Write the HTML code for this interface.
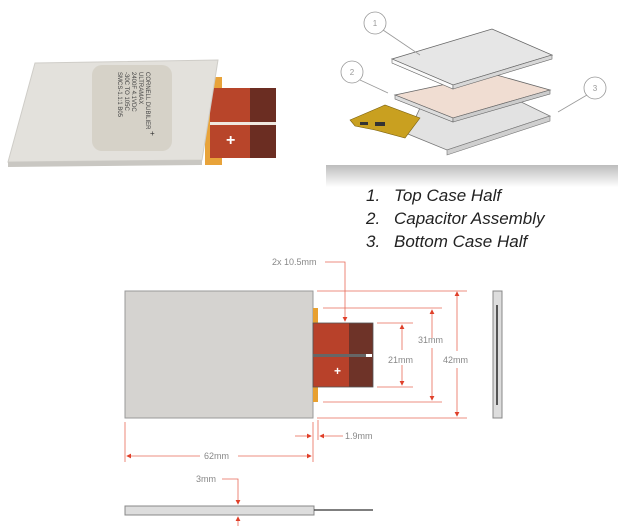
<!DOCTYPE html>
<html><head><meta charset="utf-8"><style>
html,body{margin:0;padding:0;background:#fff;width:625px;height:526px;overflow:hidden}
svg{display:block}
</style></head><body>
<svg width="625" height="526" viewBox="0 0 625 526" xmlns="http://www.w3.org/2000/svg" font-family="Liberation Sans, sans-serif">
<defs>
<linearGradient id="sh" x1="0" y1="0" x2="0" y2="1"><stop offset="0" stop-color="#bdbdbd"/><stop offset="1" stop-color="#fff"/></linearGradient>
<marker id="ar" markerWidth="6" markerHeight="6" refX="5" refY="3" orient="auto"><path d="M0,0 L6,3 L0,6 z" fill="#e0402a"/></marker>
</defs>
<!-- left photo -->
<rect x="205" y="77" width="17" height="88" fill="#e8a33a"/>
<rect x="210" y="88" width="40" height="70" fill="#b8452a"/>
<rect x="250" y="88" width="26" height="70" fill="#6b2d22"/>
<rect x="210" y="122" width="66" height="3" fill="#f0e8e0"/>
<text x="226" y="145" font-size="16" fill="#fff" font-weight="bold">+</text>
<polygon points="35,63 218,60 202,160 8,162" fill="#e3e1dc" stroke="#cfcdc8"/>
<polygon points="8,162 202,160 202,165 8,167" fill="#c9c7c2"/>
<rect x="92" y="65" width="80" height="86" rx="10" fill="#d6d2c8"/>
<g fill="#444" font-size="6"><text transform="translate(146,72) rotate(90)">CORNELL DUBILIER</text><text transform="translate(139,72) rotate(90)">ULTRAMAX</text><text transform="translate(132,72) rotate(90)">2400F 4.1VDC</text><text transform="translate(125,72) rotate(90)">-30C TO 105C</text><text transform="translate(118,72) rotate(90)">SMCS-1.1:1 B05</text></g>
<text x="150" y="136" font-size="8" fill="#333">+</text>
<!-- right panel -->
<rect x="326" y="165" width="292" height="22" fill="url(#sh)"/>
<rect x="326" y="16" width="292" height="149" fill="#fff"/>
<!-- bottom tray -->
<polygon points="420,108 513,98 550,116 447,150 408,134" fill="#e2e2e2" stroke="#777" stroke-width="0.8"/>
<polygon points="447,150 550,116 550,121 447,155" fill="#cfcfcf" stroke="#777" stroke-width="0.6"/>
<!-- flex -->
<polygon points="350,120 385,105 420,118 405,138 375,130 355,126" fill="#c9a020" stroke="#7a6010" stroke-width="0.6"/>
<rect x="375" y="122" width="10" height="4" fill="#333"/><rect x="360" y="122" width="8" height="3" fill="#333"/>
<!-- middle -->
<polygon points="395,95 493,74 550,90 453,118" fill="#f0ddd2" stroke="#666" stroke-width="0.8"/>
<polygon points="395,95 453,118 453,122 395,99" fill="#ddd" stroke="#666" stroke-width="0.6"/>
<polygon points="453,118 550,90 550,94 453,122" fill="#ccc" stroke="#666" stroke-width="0.6"/>
<!-- top -->
<polygon points="392,59 492,29 552,55 453,85" fill="#e6e6e6" stroke="#666" stroke-width="0.8"/>
<polygon points="392,59 453,85 453,89 392,63" fill="#fafafa" stroke="#666" stroke-width="0.6"/>
<polygon points="453,85 552,55 552,59 453,89" fill="#d8d8d8" stroke="#666" stroke-width="0.6"/>
<g fill="#fff" stroke="#999" stroke-width="0.8"><circle cx="375" cy="23" r="11"/><circle cx="352" cy="72" r="11"/><circle cx="595" cy="88" r="11"/></g>
<g stroke="#999" stroke-width="0.8"><line x1="383" y1="30" x2="420" y2="55"/><line x1="360" y1="80" x2="388" y2="93"/><line x1="587" y1="95" x2="558" y2="112"/></g>
<g font-size="8" fill="#999" text-anchor="middle"><text x="375" y="26">1</text><text x="352" y="75">2</text><text x="595" y="91">3</text></g>
<g font-size="17" font-style="italic" fill="#222"><text x="366" y="201">1.</text><text x="394" y="201">Top Case Half</text><text x="366" y="224">2.</text><text x="394" y="224">Capacitor Assembly</text><text x="366" y="247">3.</text><text x="394" y="247">Bottom Case Half</text></g>
<!-- drawing -->
<rect x="125" y="291" width="188" height="127" fill="#d5d3d0" stroke="#999"/>
<rect x="313" y="308" width="5" height="15" fill="#e8a030"/>
<rect x="313" y="387" width="5" height="15" fill="#e8a030"/>
<rect x="313" y="323" width="36" height="64" fill="#b8412a"/>
<rect x="349" y="323" width="24" height="64" fill="#6e3328"/>
<rect x="313" y="323" width="60" height="64" fill="none" stroke="#555" stroke-width="0.8"/>
<rect x="313" y="354" width="56" height="3" fill="#666"/>
<rect x="366" y="354" width="6" height="3" fill="#fff"/>
<text x="334" y="375" font-size="12" fill="#fff" font-weight="bold">+</text>
<rect x="493" y="291" width="9" height="127" fill="#ddd" stroke="#888"/>
<rect x="496" y="305" width="2" height="100" fill="#555"/>
<rect x="125" y="506" width="189" height="9" fill="#ddd" stroke="#888"/>
<line x1="314" y1="510" x2="373" y2="510" stroke="#333" stroke-width="1.2"/>
<g stroke="#e86a58" stroke-width="0.8" fill="none">
<line x1="317" y1="291" x2="467" y2="291"/><line x1="317" y1="418" x2="467" y2="418"/>
<line x1="323" y1="308" x2="442" y2="308"/><line x1="323" y1="402" x2="442" y2="402"/>
<line x1="377" y1="323" x2="413" y2="323"/><line x1="377" y1="387" x2="413" y2="387"/>
<line x1="457" y1="293" x2="457" y2="352" marker-end="url(#ar)" transform="rotate(180 457 322)"/>
<line x1="457" y1="368" x2="457" y2="416" marker-end="url(#ar)"/>
<line x1="432" y1="338" x2="432" y2="310" marker-end="url(#ar)"/><line x1="432" y1="348" x2="432" y2="400" marker-end="url(#ar)"/>
<line x1="402" y1="350" x2="402" y2="325" marker-end="url(#ar)"/><line x1="402" y1="365" x2="402" y2="385" marker-end="url(#ar)"/>
<polyline points="325,262 345,262 345,321" marker-end="url(#ar)"/>
<line x1="125" y1="422" x2="125" y2="462"/><line x1="313" y1="422" x2="313" y2="462"/><line x1="318" y1="420" x2="318" y2="440"/>
<line x1="200" y1="456" x2="127" y2="456" marker-end="url(#ar)"/><line x1="238" y1="456" x2="311" y2="456" marker-end="url(#ar)"/>
<line x1="295" y1="436" x2="311" y2="436" marker-end="url(#ar)"/><line x1="343" y1="436" x2="320" y2="436" marker-end="url(#ar)"/>
<polyline points="222,479 238,479 238,504" marker-end="url(#ar)"/><line x1="238" y1="526" x2="238" y2="517" marker-end="url(#ar)"/>
</g>
<g font-size="9" fill="#888"><text x="272" y="265">2x 10.5mm</text><text x="418" y="343">31mm</text><text x="388" y="363">21mm</text><text x="443" y="363">42mm</text><text x="345" y="439">1.9mm</text><text x="204" y="459">62mm</text><text x="196" y="482">3mm</text></g>
</svg>
</body></html>
